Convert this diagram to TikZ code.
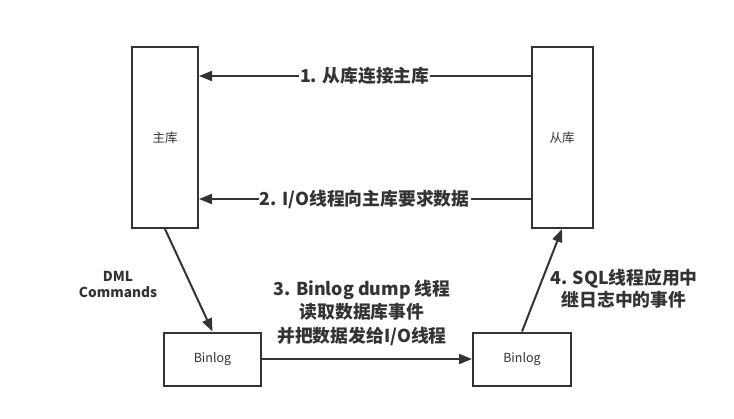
\documentclass[tikz,border=0pt]{standalone}
\usepackage{fontspec}
\setmainfont{Noto Sans CJK SC}
\usetikzlibrary{arrows.meta}
\definecolor{ink}{HTML}{333333}
\tikzset{
  dbbox/.style={draw=ink, line width=2pt, inner sep=0pt, text=ink,
    font=\fontsize{12.5}{15}\selectfont},
  arr/.style={draw=ink, line width=2pt, -{Triangle[length=13pt,width=10pt]}},
  lbl/.style={text=ink, fill=white, inner sep=1pt, align=center,
    font=\bfseries\fontsize{17.8}{23.5}\selectfont}
}
\begin{document}
\begin{tikzpicture}[x=1pt,y=-1pt]
  \useasboundingbox[fill=white] (0,0) rectangle (734,418);
  % boxes
  \node[dbbox, minimum width=66pt, minimum height=181pt] (zhu) at (165,137.5) {主库};
  \node[dbbox, minimum width=61pt, minimum height=181pt] (cong) at (562,137.5) {从库};
  \node[dbbox, minimum width=97pt, minimum height=53pt] (binlogA) at (212.5,359) {Binlog};
  \node[dbbox, minimum width=98pt, minimum height=53pt] (binlogB) at (522,359) {Binlog};
  % connectors
  \draw[arr] ([yshift=-30pt]cong.north west) -- ([yshift=-30pt]zhu.north east)
    node[lbl, pos=0.5] (step1) {1. 从库连接主库};
  \draw[arr] ([yshift=30pt]cong.south west) -- ([yshift=30pt]zhu.south east)
    node[lbl, pos=0.5] (step2) {2. I/O线程向主库要求数据};
  \draw[arr] (zhu.south) -- (binlogA.north);
  \draw[arr] (binlogA.east) -- (binlogB.west);
  \draw[arr] (binlogB.north) -- (cong.south);
  % labels
  \node[lbl, font=\bfseries\fontsize{13.7}{16}\selectfont] (dml) at (118,284) {DML\\Commands};
  \node[lbl] (step3) at (362,312.5) {3. Binlog dump 线程\\读取数据库事件\\并把数据发给I/O线程};
  \node[lbl, fill=none, font=\bfseries\fontsize{17.8}{22}\selectfont] (step4) at (624,289) {4. SQL线程应用中\\继日志中的事件};
\end{tikzpicture}
\end{document}
